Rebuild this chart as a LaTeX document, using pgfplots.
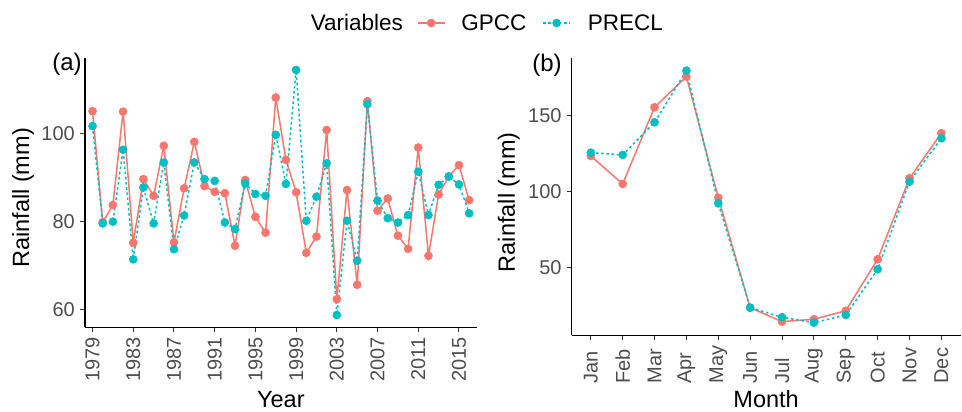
\documentclass[border=0pt]{standalone}
\usepackage{fontspec}
\setmainfont{Liberation Sans}
\usepackage{pgfplots}
\usepackage{pgfplotstable}
\pgfplotsset{compat=1.18}

\definecolor{gpcc}{HTML}{F8766D}
\definecolor{precl}{HTML}{00BFC4}
\definecolor{tickgray}{HTML}{4D4D4D}
\definecolor{tickline}{HTML}{333333}

% annual rainfall (mm)
\pgfplotstableread{
year gpcc precl
1979 105.2 101.8
1980 79.9 79.6
1981 83.8 80.0
1982 105.1 96.4
1983 75.2 71.4
1984 89.7 87.8
1985 85.9 79.6
1986 97.3 93.5
1987 75.3 73.7
1988 87.6 81.4
1989 98.2 93.5
1990 88.1 89.7
1991 86.8 89.3
1992 86.5 79.8
1993 74.5 78.3
1994 89.5 88.7
1995 81.1 86.3
1996 77.5 85.9
1997 108.3 99.8
1998 94.1 88.6
1999 86.7 114.6
2000 72.9 80.2
2001 76.6 85.7
2002 100.9 93.3
2003 62.3 58.7
2004 87.2 80.2
2005 65.6 71.1
2006 107.5 106.8
2007 82.5 84.8
2008 85.3 80.8
2009 76.8 79.8
2010 73.8 81.5
2011 96.9 91.4
2012 72.2 81.5
2013 86.2 88.4
2014 90.3 90.3
2015 92.9 88.5
2016 84.9 81.9
}\annual

% monthly climatology (mm)
\pgfplotstableread{
m gpcc precl
1 123.5 125.7
2 105.1 124.2
3 155.6 145.7
4 175.8 179.8
5 96.0 92.3
6 23.5 23.5
7 14.3 17.2
8 15.9 13.6
9 21.5 18.7
10 55.4 48.8
11 108.8 106.6
12 138.5 135.2
}\monthly

\pgfplotsset{
  panel/.style={
    scale only axis,
    anchor=south west,
    axis x line*=bottom,
    axis y line*=left,
    axis line style={black, line width=1.1pt},
    tick align=outside,
    major tick length=5pt,
    tick style={tickline, line width=1pt},
    tick label style={font=\fontsize{20}{24}\selectfont, text=tickgray, inner sep=0pt},
    xticklabel shift=5pt,
    yticklabel shift=5pt,
    label style={font=\fontsize{23.5}{28}\selectfont, inner sep=0pt},
    /pgf/number format/assume math mode=true,
    /pgf/number format/1000 sep={},
    clip=false,
  },
  gpccline/.style={gpcc, line width=1.5pt, mark=*, mark size=4pt,
    mark options={solid, line width=0.6pt, fill=gpcc, draw=gpcc}},
  preclline/.style={precl, line width=1.5pt, dash pattern=on 2.6pt off 2.6pt,
    mark=*, mark size=4pt, mark options={solid, line width=0.6pt, fill=precl, draw=precl}},
}

\begin{document}
\begin{tikzpicture}
\useasboundingbox (0pt,0pt) rectangle (962pt,412pt);

\begin{axis}[
  panel,
  at={(85pt,84.7pt)},
  width=391.7pt, height=269.6pt,
  xmin=1978.26, xmax=2016.74,
  ymin=55.9, ymax=117.4,
  xtick={1979,1983,...,2015},
  ytick={60,80,100},
  xticklabel style={rotate=90, anchor=east},
  xlabel={Year},
  ylabel={Rainfall (mm)},
  xlabel style={at={(axis description cs:0.5,-0.296)}, anchor=base},
  ylabel style={at={(axis description cs:-0.158,0.48)}, anchor=center},
  legend style={at={(axis description cs:1.026,1.1287)}, anchor=center,
    draw=none, fill=none, legend columns=-1,
    font=\fontsize{22.5}{27}\selectfont,
    nodes={inner sep=0pt},
    /tikz/column 1/.style={column sep=0pt},
    /tikz/column 2/.style={column sep=14pt},
    /tikz/column 3/.style={column sep=16pt},
    /tikz/column 4/.style={column sep=16pt},
    /tikz/column 5/.style={column sep=17pt}},
  legend image code/.code={\draw[mark repeat=2,mark phase=2,#1]
    plot coordinates {(0pt,0pt) (13.5pt,0pt) (27pt,0pt)};},
]
\addlegendimage{empty legend}
\addlegendentry{Variables}
\addplot[gpccline] table[x=year, y=gpcc] {\annual};
\addlegendentry{GPCC}
\addplot[preclline] table[x=year, y=precl] {\annual};
\addlegendentry{PRECL}
\node[font=\fontsize{24}{29}\selectfont] at (axis description cs:-0.046,0.974) {(a)};
\end{axis}

\begin{axis}[
  panel,
  at={(571.7pt,76.7pt)},
  width=388.8pt, height=277.3pt,
  xmin=0.4, xmax=12.6,
  ymin=5.3, ymax=188.1,
  xtick={1,...,12},
  xticklabels={Jan,Feb,Mar,Apr,May,Jun,Jul,Aug,Sep,Oct,Nov,Dec},
  ytick={50,100,150},
  xticklabel style={rotate=90, anchor=east, text width=38pt, align=left},
  xlabel={Month},
  ylabel={Rainfall (mm)},
  xlabel style={at={(axis description cs:0.5,-0.2586)}, anchor=base},
  ylabel style={at={(axis description cs:-0.162,0.48)}, anchor=center},
]
\addplot[gpccline] table[x=m, y=gpcc] {\monthly};
\addplot[preclline] table[x=m, y=precl] {\monthly};
\node[font=\fontsize{24}{29}\selectfont] at (axis description cs:-0.0635,0.975) {(b)};
\end{axis}
\end{tikzpicture}
\end{document}
